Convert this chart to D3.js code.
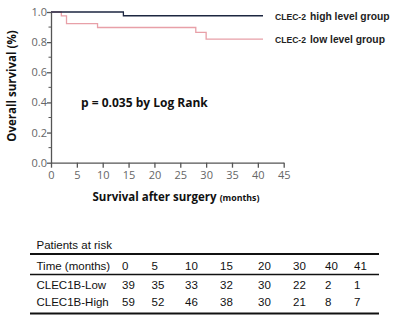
<!DOCTYPE html>
<html><head><meta charset="utf-8">
<script src="https://cdn.jsdelivr.net/npm/d3@7"></script>
<style>body{margin:0;background:#fff}svg{display:block}</style>
</head><body>
<script>
const lowTimes = [0, 2, 3, 9, 28, 30, 41];
const lowSurv  = [1, 0.974, 0.923, 0.897, 0.865, 0.82, 0.82];
const highTimes = [0, 14, 41];
const highSurv  = [1, 0.975, 0.975];
const xTicks = [0,5,10,15,20,25,30,35,40,45];
const yTicks = [0,0.2,0.4,0.6,0.8,1.0];
const yMinor = [0.1,0.3,0.5,0.7,0.9];
const riskHeader = ["Time (months)","0","5","10","15","20","30","40","41"];
const riskLow = ["CLEC1B-Low","39","35","33","32","30","22","2","1"];
const riskHigh = ["CLEC1B-High","59","52","46","38","30","21","8","7"];

const W=394,H=324;
const svg=d3.select("body").append("svg").attr("width",W).attr("height",H);
const x=d3.scaleLinear().domain([0,45]).range([51,283.7]);
const y=d3.scaleLinear().domain([0,1]).range([162.7,12]);
const axisCol="#555";
const tickFont="'Open Sans', sans-serif";

// x axis
const gx=svg.append("g").attr("transform",`translate(0,${y(0)})`)
  .call(d3.axisBottom(x).tickValues(xTicks).tickSize(5).tickSizeOuter(0).tickFormat(d3.format("d")));
gx.select(".domain").attr("stroke",axisCol).attr("stroke-width",1.3);
gx.selectAll(".tick line").attr("stroke",axisCol).attr("stroke-width",1.3);
gx.selectAll("text").attr("fill","#666").attr("font-family",tickFont).attr("font-size",11).attr("dy","0.8em");

// y axis
const gy=svg.append("g").attr("transform",`translate(${x(0)},0)`)
  .call(d3.axisLeft(y).tickValues(yTicks).tickSize(4).tickSizeOuter(0).tickFormat(d3.format(".1f")));
gy.select(".domain").attr("stroke",axisCol).attr("stroke-width",1.3);
gy.selectAll(".tick line").attr("stroke",axisCol).attr("stroke-width",1.3);
gy.selectAll("text").attr("fill","#666").attr("font-family",tickFont).attr("font-size",11).attr("x",-4);
gy.selectAll(".minor").data(yMinor).enter().append("line")
  .attr("x1",-2.5).attr("x2",0).attr("y1",d=>y(d)).attr("y2",d=>y(d))
  .attr("stroke",axisCol).attr("stroke-width",1);

// curves
const line=d3.line().x(d=>x(d[0])).y(d=>y(d[1])).curve(d3.curveStepAfter);
svg.append("path").datum(lowTimes.map((t,i)=>[t,lowSurv[i]]))
  .attr("d",line).attr("fill","none").attr("stroke","#e8a0a8").attr("stroke-width",1.3);
svg.append("path").datum(highTimes.map((t,i)=>[t,highSurv[i]]))
  .attr("d",line).attr("fill","none").attr("stroke","#1c2640").attr("stroke-width",1.3);

// legend
const lf="'Liberation Sans', Arial, sans-serif";
function leg(yy,label){
  svg.append("text").attr("x",275).attr("y",yy).attr("font-family",lf).attr("font-weight","bold")
    .attr("fill","#222").attr("font-size",8.6).attr("textLength",31).text("CLEC-2");
  svg.append("text").attr("x",310).attr("y",yy).attr("font-family",lf).attr("font-weight","bold")
    .attr("fill","#222").attr("font-size",10.3).text(label);
}
leg(19.5,"high level group");
leg(43,"low level group");

// p text
svg.append("text").attr("x",81).attr("y",107).attr("font-family","'Open Sans', sans-serif")
  .attr("font-weight","bold").attr("font-size",12).attr("fill","#111").text("p = 0.035 by Log Rank");

// y label
svg.append("text").attr("transform","translate(16,86) rotate(-90)").attr("text-anchor","middle")
  .attr("font-family","'Open Sans', sans-serif").attr("font-weight","bold").attr("font-size",11.5).attr("fill","#111")
  .text("Overall survival (%)");

// x label
const xl=svg.append("text").attr("x",176).attr("y",201).attr("text-anchor","middle")
  .attr("font-family","'Open Sans', sans-serif").attr("font-weight","bold").attr("fill","#111");
xl.append("tspan").attr("font-size",11.5).text("Survival after surgery");
xl.append("tspan").attr("font-size",8.8).attr("dx",3).text("(months)");

// risk table
const tf="'Liberation Sans', Arial, sans-serif";
svg.append("text").attr("x",36.5).attr("y",249).attr("font-family",tf).attr("font-size",11.5).attr("fill","#111").text("Patients at risk");
const colX=[36.5,122,151.5,185,220,258,293,325,354];
const rows=[riskHeader,riskLow,riskHigh];
const rowY=[269.5,288.5,306];
rows.forEach((r,ri)=>{
  svg.append("g").selectAll("text").data(r).enter().append("text")
    .attr("x",(d,i)=>colX[i]).attr("y",rowY[ri]).attr("font-family",tf).attr("font-size",11.5).attr("fill","#111").text(d=>d);
});
[[254,1.8],[274.5,1.4],[313.5,1.8]].forEach(([yy,sw])=>{
  svg.append("line").attr("x1",30).attr("x2",379).attr("y1",yy).attr("y2",yy).attr("stroke","#111").attr("stroke-width",sw);
});
</script>
</body></html>
